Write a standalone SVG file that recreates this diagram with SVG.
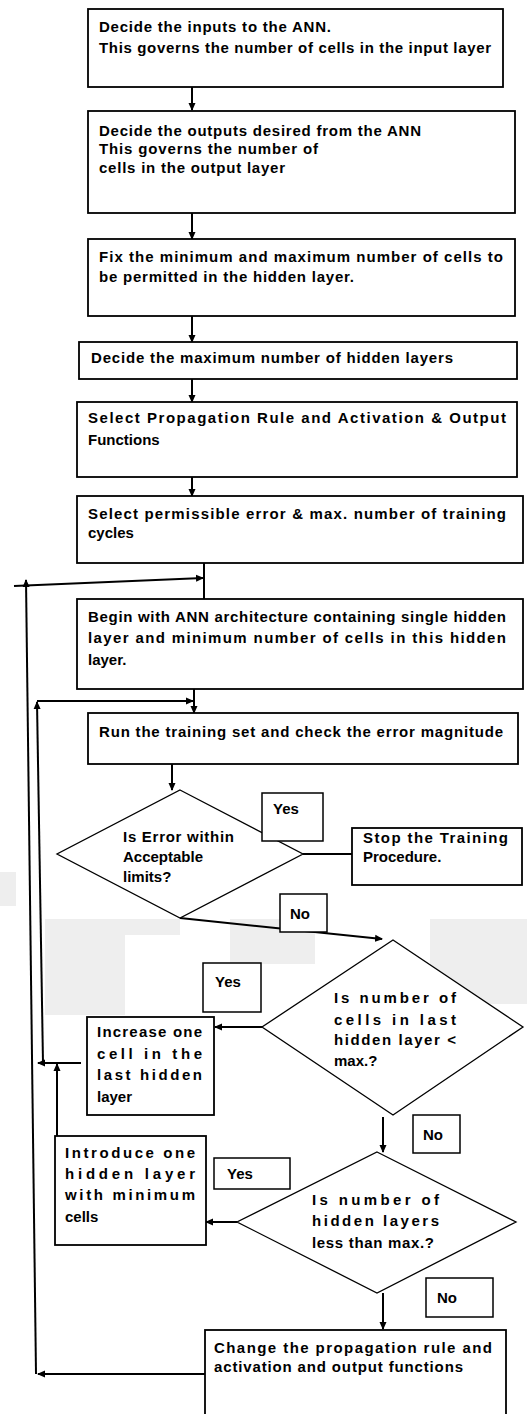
<svg xmlns="http://www.w3.org/2000/svg" width="527" height="1414" viewBox="0 0 527 1414">
<defs>
<style>
.bx{fill:#fff;stroke:#000;stroke-width:1.8}
.lb{fill:#fff;stroke:#000;stroke-width:1.5}
.dm{fill:#fff;stroke:#000;stroke-width:1.3}
.ln{fill:none;stroke:#000;stroke-width:2}
.ar{fill:none;stroke:#000;stroke-width:2;marker-end:url(#ah)}
text{font-family:"Liberation Sans",Arial,sans-serif;font-weight:bold;font-size:15px;fill:#000}
.wm{fill:#eeeeee}
</style>
<marker id="ah" markerWidth="8" markerHeight="8" refX="7" refY="4" orient="auto" markerUnits="userSpaceOnUse">
<path d="M0,0.5 L8,4 L0,7.5 Z" fill="#000"/>
</marker>
</defs>
<rect width="527" height="1414" fill="#fff"/>
<g id="watermark">
<rect class="wm" x="0" y="872" width="16" height="34"/>
<rect class="wm" x="45" y="919" width="135" height="16"/>
<rect class="wm" x="45" y="935" width="80" height="80"/>
<rect class="wm" x="230" y="919" width="85" height="45"/>
<rect class="wm" x="430" y="919" width="97" height="85"/>
</g>
<g id="connectors">
<line class="ar" x1="192" y1="87" x2="192" y2="110"/>
<line class="ar" x1="192" y1="213" x2="192" y2="239"/>
<line class="ar" x1="192" y1="316" x2="192" y2="342"/>
<line class="ar" x1="192" y1="379" x2="192" y2="402"/>
<line class="ar" x1="192" y1="470" x2="192" y2="496"/>
<line class="ln" x1="204" y1="563" x2="204" y2="599"/>
<line class="ar" x1="14" y1="586" x2="203" y2="578"/>
<line class="ar" x1="36" y1="1374" x2="26" y2="580"/>
<line class="ar" x1="194" y1="689" x2="194" y2="713"/>
<line class="ar" x1="37" y1="701" x2="193" y2="701"/>
<line class="ar" x1="43" y1="1063" x2="37" y2="702"/>
<line class="ar" x1="172" y1="764" x2="172" y2="790"/>
<line class="ln" x1="303" y1="854" x2="352" y2="854"/>
<line class="ar" x1="180" y1="918" x2="382" y2="939"/>
<line class="ar" x1="262" y1="1027" x2="215" y2="1027"/>
<line class="ar" x1="81" y1="1063" x2="38" y2="1063"/>
<line class="ar" x1="57" y1="1245" x2="57" y2="1064"/>
<line class="ar" x1="383" y1="1117" x2="383" y2="1152"/>
<line class="ar" x1="237" y1="1222" x2="206" y2="1222"/>
<line class="ar" x1="383" y1="1293" x2="383" y2="1329"/>
<line class="ar" x1="205" y1="1374" x2="38" y2="1374"/>
</g>
<g id="n1">
<rect class="bx" x="88" y="9" width="415" height="78"/>
<text x="99" y="32" textLength="232" lengthAdjust="spacing">Decide the inputs to the ANN.</text>
<text x="99" y="53" textLength="392" lengthAdjust="spacing">This governs the number of cells in the input layer</text>
</g>
<g id="n2">
<rect class="bx" x="88" y="111" width="427" height="102"/>
<text x="99" y="136" textLength="322" lengthAdjust="spacing">Decide the outputs desired from the ANN</text>
<text x="99" y="154" textLength="219" lengthAdjust="spacing">This governs the number of</text>
<text x="99" y="173" textLength="186" lengthAdjust="spacing">cells in the output layer</text>
</g>
<g id="n3">
<rect class="bx" x="88" y="239" width="427" height="77"/>
<text x="99" y="262" textLength="404" lengthAdjust="spacing">Fix the minimum and maximum number of cells to</text>
<text x="99" y="282" textLength="255" lengthAdjust="spacing">be permitted in the hidden layer.</text>
</g>
<g id="n4">
<rect class="bx" x="79" y="342" width="438" height="37"/>
<text x="91" y="363" textLength="362" lengthAdjust="spacing">Decide the maximum number of hidden layers</text>
</g>
<g id="n5">
<rect class="bx" x="77" y="402" width="440" height="75"/>
<text x="88" y="423" textLength="418" lengthAdjust="spacing">Select Propagation Rule and Activation &amp; Output</text>
<text x="88" y="445">Functions</text>
</g>
<g id="n6">
<rect class="bx" x="77" y="496" width="446" height="67"/>
<text x="88" y="519" textLength="418" lengthAdjust="spacing">Select permissible error &amp; max. number of training</text>
<text x="88" y="538">cycles</text>
</g>
<g id="n7">
<rect class="bx" x="77" y="599" width="446" height="90"/>
<text x="88" y="622" textLength="418" lengthAdjust="spacing">Begin with ANN architecture containing single hidden</text>
<text x="88" y="643" textLength="418" lengthAdjust="spacing">layer and minimum number of cells in this hidden</text>
<text x="88" y="665">layer.</text>
</g>
<g id="n8">
<rect class="bx" x="88" y="713" width="430" height="51"/>
<text x="99" y="737" textLength="404" lengthAdjust="spacing">Run the training set and check the error magnitude</text>
</g>
<g id="d1">
<polygon class="dm" points="180,790 303,854 180,918 57,854"/>
<text x="123" y="842" textLength="111" lengthAdjust="spacing">Is Error within</text>
<text x="123" y="862">Acceptable</text>
<text x="123" y="882">limits?</text>
</g>
<g id="yes1">
<rect class="lb" x="262" y="793" width="61" height="48"/>
<text x="273" y="814">Yes</text>
</g>
<g id="n9">
<rect class="bx" x="352" y="828" width="170" height="57"/>
<text x="363" y="843" textLength="145" lengthAdjust="spacing">Stop the Training</text>
<text x="363" y="862">Procedure.</text>
</g>
<g id="no1">
<rect class="lb" x="280" y="894" width="47" height="38"/>
<text x="290" y="919">No</text>
</g>
<g id="d2">
<polygon class="dm" points="393,940 523,1027 393,1115 262,1027"/>
<text x="334" y="1003" textLength="122" lengthAdjust="spacing">Is number of</text>
<text x="334" y="1025" textLength="122" lengthAdjust="spacing">cells in last</text>
<text x="334" y="1045" textLength="122" lengthAdjust="spacing">hidden layer &lt;</text>
<text x="334" y="1066">max.?</text>
</g>
<g id="yes2">
<rect class="lb" x="203" y="963" width="58" height="49"/>
<text x="215" y="987">Yes</text>
</g>
<g id="n10">
<rect class="bx" x="87" y="1017" width="127" height="98"/>
<text x="97" y="1037" textLength="105" lengthAdjust="spacing">Increase one</text>
<text x="97" y="1059" textLength="105" lengthAdjust="spacing">cell in the</text>
<text x="97" y="1080" textLength="105" lengthAdjust="spacing">last hidden</text>
<text x="97" y="1102">layer</text>
</g>
<g id="no2">
<rect class="lb" x="413" y="1115" width="47" height="38"/>
<text x="423" y="1140">No</text>
</g>
<g id="d3">
<polygon class="dm" points="377,1152 516,1222 377,1293 237,1222"/>
<text x="312" y="1205" textLength="127" lengthAdjust="spacing">Is number of</text>
<text x="312" y="1226" textLength="127" lengthAdjust="spacing">hidden layers</text>
<text x="312" y="1248" textLength="122" lengthAdjust="spacing">less than max.?</text>
</g>
<g id="yes3">
<rect class="lb" x="214" y="1158" width="76" height="31"/>
<text x="227" y="1179">Yes</text>
</g>
<g id="n11">
<rect class="bx" x="55" y="1136" width="151" height="109"/>
<text x="65" y="1158" textLength="130" lengthAdjust="spacing">Introduce one</text>
<text x="65" y="1179" textLength="130" lengthAdjust="spacing">hidden layer</text>
<text x="65" y="1200" textLength="130" lengthAdjust="spacing">with minimum</text>
<text x="65" y="1222">cells</text>
</g>
<g id="no3">
<rect class="lb" x="426" y="1278" width="67" height="39"/>
<text x="437" y="1303">No</text>
</g>
<g id="n12">
<rect class="bx" x="205" y="1330" width="301" height="100"/>
<text x="214" y="1353" textLength="278" lengthAdjust="spacing">Change the propagation rule and</text>
<text x="214" y="1372" textLength="249" lengthAdjust="spacing">activation and output functions</text>
</g>
</svg>
